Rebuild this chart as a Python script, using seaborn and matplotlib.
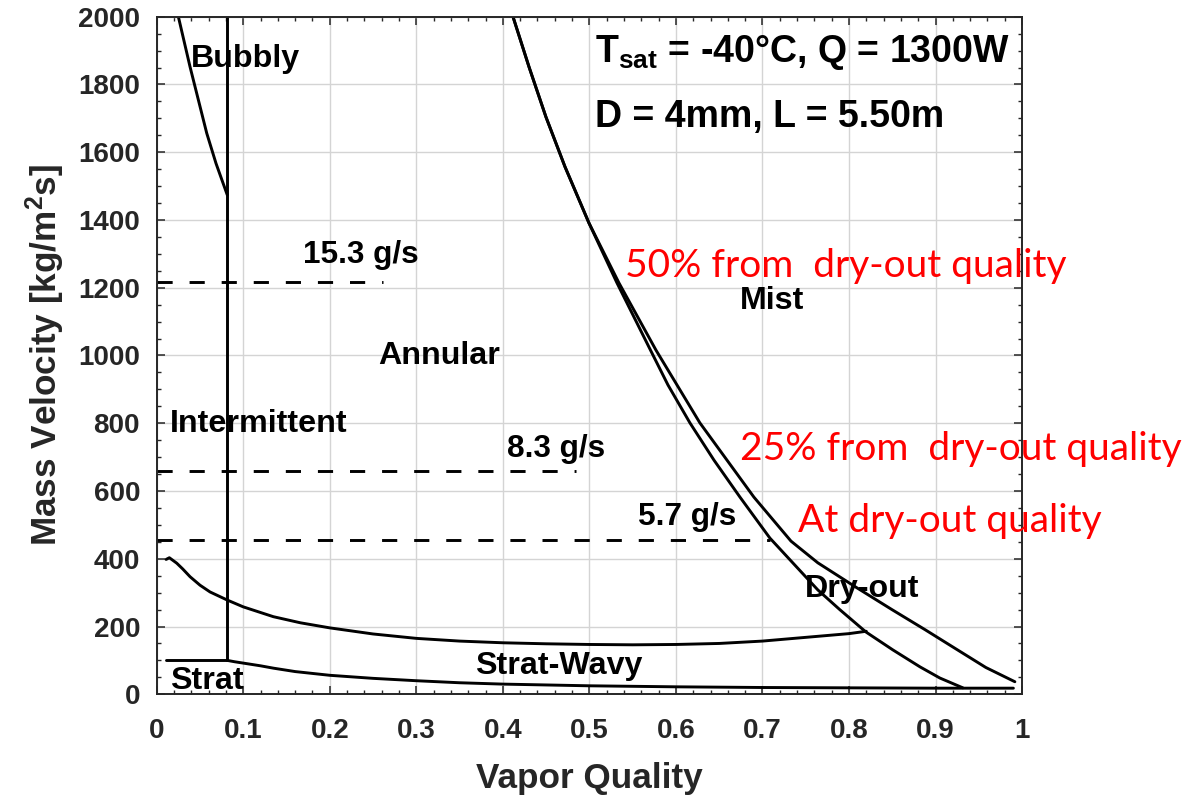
import matplotlib
matplotlib.use("Agg")
import matplotlib.pyplot as plt
import pandas as pd
import seaborn as sns
from matplotlib.ticker import MultipleLocator, FuncFormatter

# ---- flow-pattern map boundaries (vapor quality x, mass velocity G) ----
bubbly_x = [0.025, 0.0385, 0.0578, 0.0685, 0.0815]
bubbly_g = [2000, 1852, 1656, 1567, 1474]

intermittent_x = [0.0815, 0.0815]
intermittent_g = [100, 2000]

strat_x = [0.0108, 0.0815]
strat_g = [100, 100]

stratwavy_low_x = [0.0815, 0.09, 0.1, 0.12, 0.135, 0.16, 0.2, 0.25, 0.3, 0.35,
                   0.4, 0.5, 0.6, 0.7, 0.8, 0.9, 0.99]
stratwavy_low_g = [100, 96, 92, 84, 77, 67, 56, 47, 40, 34,
                   30, 25, 22, 20, 19, 18, 18]

stratwavy_up_x = [0.0108, 0.0146, 0.0231, 0.03, 0.0385, 0.05, 0.0616, 0.0816, 0.1,
                  0.1348, 0.166, 0.2, 0.25, 0.3, 0.35, 0.4, 0.45, 0.5, 0.55, 0.6,
                  0.65, 0.7, 0.75, 0.8, 0.82]
stratwavy_up_g = [398, 403, 387, 370, 347, 322, 302, 278, 258,
                  229, 211, 196, 178, 165, 157, 152, 149, 147, 146, 147,
                  150, 157, 168, 179, 186]

dryout_x = [0.4117, 0.4302, 0.4498, 0.4718, 0.4995, 0.5319, 0.5688, 0.5908, 0.6162,
            0.644, 0.674, 0.7086, 0.764, 0.7893, 0.8195, 0.8507, 0.882, 0.905, 0.9316]
dryout_g = [2000, 1852, 1704, 1557, 1391, 1214, 1025, 913, 801,
            691, 582, 461, 308, 250, 184, 131, 81, 48, 19]

mist_x = [0.4117, 0.4302, 0.4498, 0.4718, 0.4995, 0.5342, 0.5769, 0.6277, 0.6901,
          0.733, 0.764, 0.8068, 0.8496, 0.8877, 0.9248, 0.9582, 0.9917]
mist_g = [2000, 1852, 1704, 1557, 1391, 1214, 1016, 801, 582,
          452, 388, 318, 250, 191, 132, 79, 37]

# ---- operating mass flow rates ----
flow_labels = ["15.3 g/s", "8.3 g/s", "5.7 g/s"]
flow_g = [1218, 660, 454]
flow_xend = [0.262, 0.484, 0.709]

boundaries = {
    "bubbly": (bubbly_x, bubbly_g),
    "intermittent": (intermittent_x, intermittent_g),
    "strat": (strat_x, strat_g),
    "stratwavy_low": (stratwavy_low_x, stratwavy_low_g),
    "stratwavy_up": (stratwavy_up_x, stratwavy_up_g),
    "dryout": (dryout_x, dryout_g),
    "mist": (mist_x, mist_g),
}
df_b = pd.concat(
    [pd.DataFrame({"x": bx, "G": bg, "boundary": name})
     for name, (bx, bg) in boundaries.items()],
    ignore_index=True,
)
df_f = pd.concat(
    [pd.DataFrame({"x": [0.0, xe], "G": [g, g], "flow": lab})
     for lab, g, xe in zip(flow_labels, flow_g, flow_xend)],
    ignore_index=True,
)

sns.set_theme(style="ticks")
plt.rcParams["font.family"] = ["Liberation Sans", "DejaVu Sans"]
plt.rcParams["mathtext.fontset"] = "custom"
plt.rcParams["mathtext.rm"] = "Liberation Sans:bold"
plt.rcParams["mathtext.it"] = "Liberation Sans:bold"
plt.rcParams["mathtext.bf"] = "Liberation Sans:bold"

fig = plt.figure(figsize=(12.01, 7.95), dpi=100)
ax = fig.add_axes([0.1305, 0.1267, 0.7205, 0.8523])

sns.lineplot(data=df_b, x="x", y="G", units="boundary", estimator=None, sort=False,
             color="black", lw=2.1, ax=ax)
sns.lineplot(data=df_f, x="x", y="G", units="flow", estimator=None, sort=False,
             color="black", lw=2.1, ax=ax)
for ln in ax.lines[-len(flow_labels):]:
    ln.set_linestyle((0, (5.2, 5.8)))
for ln in ax.lines:
    ln.set_solid_joinstyle("round")

ax.set_xlim(0, 1)
ax.set_ylim(0, 2000)
ax.xaxis.set_major_locator(MultipleLocator(0.1))
ax.xaxis.set_minor_locator(MultipleLocator(0.02))
ax.yaxis.set_major_locator(MultipleLocator(200))
ax.yaxis.set_minor_locator(MultipleLocator(50))
ax.xaxis.set_major_formatter(FuncFormatter(lambda v, _: f"{v:g}"))
ax.yaxis.set_major_formatter(FuncFormatter(lambda v, _: f"{v:g}"))

ax.grid(True, which="major", color="#d4d4d4", lw=1.0)
ax.set_axisbelow(True)
for s in ax.spines.values():
    s.set_color("#262626")
    s.set_linewidth(1.4)
ax.tick_params(which="both", direction="in", top=True, right=True, color="#262626")
ax.tick_params(which="major", length=6, width=1.1)
ax.tick_params(which="minor", length=3, width=1.0)
ax.tick_params(axis="y", which="major", pad=12)
ax.tick_params(axis="x", which="major", pad=17)
for lab in ax.get_xticklabels() + ax.get_yticklabels():
    lab.set_fontsize(20)
    lab.set_fontweight("bold")
    lab.set_color("#262626")

ax.set_xlabel("Vapor Quality", fontsize=25.3, fontweight="bold", labelpad=13)
ax.set_ylabel("Mass Velocity [kg/m$^{2}$s]", fontsize=25.3, fontweight="bold", labelpad=8)

# region labels
txt = dict(fontsize=23.2, fontweight="bold", color="black", ha="left", va="baseline")
ax.text(0.0396, 1852, "Bubbly", **txt)
ax.text(0.256, 976, "Annular", **txt)
ax.text(0.0154, 773, "Intermittent", **txt)
ax.text(0.674, 1136, "Mist", **txt)
ax.text(0.749, 287, "Dry-out", **txt)
ax.text(0.368, 60, "Strat-Wavy", **txt)
ax.text(0.0154, 15, "Strat", **txt)

flowtxt = dict(txt, fontsize=22.7)
ax.text(0.169, 1272, flow_labels[0], **flowtxt)
ax.text(0.405, 701, flow_labels[1], **flowtxt)
ax.text(0.556, 500, flow_labels[2], **flowtxt)

cond = dict(fontsize=27, fontweight="bold", color="black", ha="left", va="baseline")
ax.text(0.507, 1867, "T$_{sat}$ = -40°C, Q = 1300W", **cond)
ax.text(0.507, 1675, "D = 4mm, L = 5.50m", **cond)

# operating-point notes
red = dict(fontsize=28, color="#ff0000", ha="left", va="baseline", family="Lato")
fig.text(625 / 1201, 1 - 277 / 795, "50% from  dry-out quality", **red)
fig.text(740 / 1201, 1 - 460 / 795, "25% from  dry-out quality", **red)
fig.text(798 / 1201, 1 - 531.7 / 795, "At dry-out quality", **red)

fig.savefig("out.png", dpi=100, facecolor="white")
